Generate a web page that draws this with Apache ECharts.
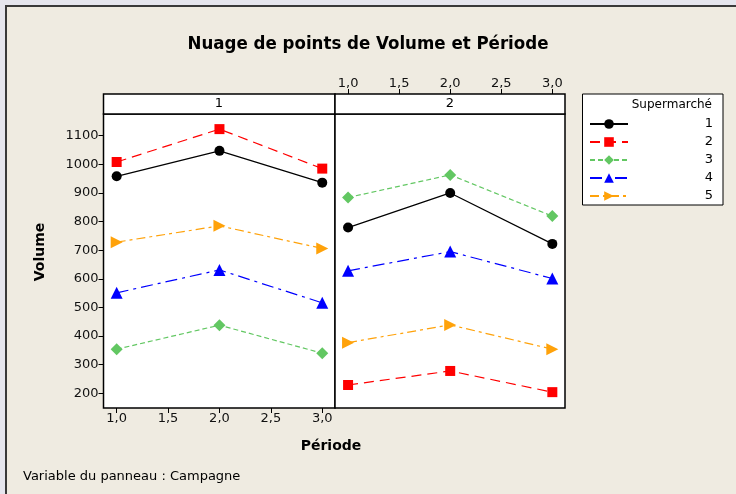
<!DOCTYPE html>
<html>
<head>
<meta charset="utf-8">
<script src="https://cdn.jsdelivr.net/npm/echarts@6/dist/echarts.min.js"></script>
<style>
  html, body { margin: 0; padding: 0; background: #e6e6ee; }
  #chart { width: 736px; height: 494px; }
</style>
</head>
<body>
<div id="chart"></div>
<script>
// données
const periode = [1, 2, 3];
const supermarches = ['1', '2', '3', '4', '5'];
const xTicks = [1, 1.5, 2, 2.5, 3];
const yTicks = [200, 300, 400, 500, 600, 700, 800, 900, 1000, 1100];
const panneaux = ['1', '2'];

// Campagne 1 : volume par supermarché (1..5) et période
const camp1 = [
  [958, 1047, 936],
  [1008, 1123, 985],
  [354, 438, 340],
  [551, 631, 516],
  [728, 785, 706]
];
// Campagne 2
const camp2 = [
  [779, 900, 722],
  [229, 278, 204],
  [884, 963, 819],
  [628, 695, 601],
  [377, 439, 354]
];

const couleurs = ['#000000', '#ff0000', '#62c762', '#0000ff', '#ffa20a'];
const symboles = ['circle', 'rect', 'diamond', 'triangle', 'triangle'];
const rotations = [0, 0, 0, 0, -90];
const tailles = [10, 10, 12, 12, 12];
const tirets = ['solid', [10, 6], [5, 3], [12, 5, 3, 5], [9, 4, 3, 4]];

const police = 'DejaVu Sans, Verdana, sans-serif';
const virgule = v => v.toFixed(1).replace('.', ',');

function faireSeries(donnees, idx) {
  return donnees.map((vals, i) => ({
    name: supermarches[i],
    type: 'line',
    xAxisIndex: idx,
    yAxisIndex: idx,
    data: periode.map((p, k) => [p, vals[k]]),
    symbol: symboles[i],
    symbolSize: tailles[i],
    symbolRotate: rotations[i],
    itemStyle: { color: couleurs[i] },
    lineStyle: { color: couleurs[i], width: 1.2, type: tirets[i] },
    emphasis: { disabled: true },
    animation: false
  }));
}

const axeX = (idx, pos, offset) => ({
  type: 'value',
  gridIndex: idx,
  position: pos,
  offset: offset,
  min: 0.872,
  max: 3.124,
  axisLine: { show: false },
  splitLine: { show: false },
  axisTick: { show: true, customValues: xTicks, length: 5, lineStyle: { color: '#000' } },
  axisLabel: {
    customValues: xTicks, formatter: virgule, margin: 4,
    color: '#111', fontFamily: police, fontSize: 13
  }
});

const axeY = (idx, labels) => ({
  type: 'value',
  gridIndex: idx,
  min: 148.6,
  max: 1175.8,
  axisLine: { show: false },
  splitLine: { show: false },
  axisTick: { show: labels, customValues: yTicks, length: 5, lineStyle: { color: '#000' } },
  axisLabel: {
    show: labels, customValues: yTicks, margin: 5,
    formatter: v => String(Math.round(v)),
    color: '#111', fontFamily: police, fontSize: 13
  }
});

const chart = echarts.init(document.getElementById('chart'));

const option = {
  backgroundColor: '#e6e6ee',
  animation: false,
  title: {
    text: 'Nuage de points de Volume et Période',
    left: 'center',
    top: 30,
    textStyle: { fontFamily: 'DejaVu Sans Condensed, DejaVu Sans, sans-serif', fontWeight: 'bold', fontSize: 18.5, color: '#000' }
  },
  graphic: [
    { type: 'rect', z: -10, shape: { x: 6, y: 6, width: 760, height: 520 },
      style: { fill: '#efebe1', stroke: '#3a3a3a', lineWidth: 2 } },
    // bandeaux des panneaux
    { type: 'rect', shape: { x: 103.5, y: 94, width: 231.5, height: 20 },
      style: { fill: '#fff', stroke: '#000', lineWidth: 1.5 } },
    { type: 'rect', shape: { x: 335, y: 94, width: 230, height: 20 },
      style: { fill: '#fff', stroke: '#000', lineWidth: 1.5 } },
    { type: 'text', x: 219, y: 104, style: { text: panneaux[0], fontFamily: police, fontSize: 13, fill: '#000', align: 'center', verticalAlign: 'middle' } },
    { type: 'text', x: 450, y: 104, style: { text: panneaux[1], fontFamily: police, fontSize: 13, fill: '#000', align: 'center', verticalAlign: 'middle' } },
    // titres d'axes
    { type: 'text', x: 40, y: 252, rotation: Math.PI / 2,
      style: { text: 'Volume', fontFamily: police, fontWeight: 'bold', fontSize: 14, fill: '#000', align: 'center', verticalAlign: 'middle' } },
    { type: 'text', x: 331, y: 446,
      style: { text: 'Période', fontFamily: police, fontWeight: 'bold', fontSize: 14, fill: '#000', align: 'center', verticalAlign: 'middle' } },
    { type: 'text', x: 23, y: 477,
      style: { text: 'Variable du panneau : Campagne', fontFamily: police, fontSize: 13, fill: '#000', align: 'left', verticalAlign: 'middle' } },
    // cadre de légende
    { type: 'rect', shape: { x: 582.5, y: 94, width: 140.5, height: 111 },
      style: { fill: '#fff', stroke: '#000', lineWidth: 1 } },
    { type: 'text', x: 712, y: 105,
      style: { text: 'Supermarché', fontFamily: police, fontSize: 12, fill: '#000', align: 'right', verticalAlign: 'middle' } }
  ],
  legend: {
    orient: 'vertical',
    left: 589,
    top: 117.5,
    padding: 0,
    itemWidth: 38,
    itemHeight: 12,
    itemGap: 5,
    data: supermarches,
    selectedMode: false,
    formatter: '{a|{name}}',
    textStyle: {
      fontFamily: police, fontSize: 13, color: '#000', lineHeight: 10,
      rich: { a: { width: 80, align: 'right', fontFamily: police, fontSize: 13, lineHeight: 10 } }
    }
  },
  grid: [
    { left: 103.5, top: 114, width: 231.5, height: 294, show: true, backgroundColor: '#fff', borderColor: '#000', borderWidth: 1.5 },
    { left: 335, top: 114, width: 230, height: 294, show: true, backgroundColor: '#fff', borderColor: '#000', borderWidth: 1.5 }
  ],
  xAxis: [axeX(0, 'bottom', 0), axeX(1, 'top', 20)],
  yAxis: [axeY(0, true), axeY(1, false)],
  series: faireSeries(camp1, 0).concat(faireSeries(camp2, 1))
};

chart.setOption(option);
</script>
</body>
</html>
